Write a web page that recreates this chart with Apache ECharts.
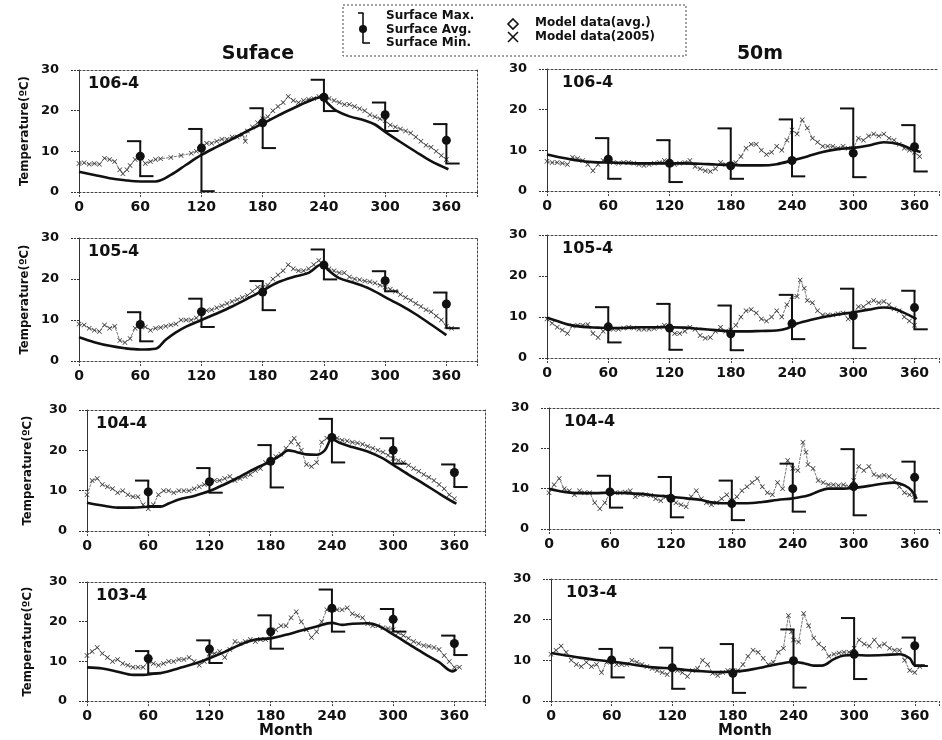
<!DOCTYPE html>
<html>
<head>
<meta charset="utf-8">
<script src="https://cdn.jsdelivr.net/npm/echarts@6/dist/echarts.min.js"></script>
<style>
html,body{margin:0;padding:0;background:#fff;}
#chart{width:942px;height:740px;}
</style>
</head>
<body>
<div id="chart"></div>
<script>
// ---------------- DATA ----------------
const stations = ['106-4', '105-4', '104-4', '103-4'];
const columnTitles = ['Suface', '50m'];
const xTicks = [0, 60, 120, 180, 240, 300, 360];
const yTicks = [0, 10, 20, 30];
const obsDays = [60, 120, 180, 240, 300, 360];

// Observations (error bars) : surface
const surfMax106 = [12.5, 15.5, 20.6, 27.6, 22.0, 16.7];
const surfAvg106 = [8.8, 10.8, 17.0, 23.3, 19.0, 12.7];
const surfMin106 = [3.9, 0.2, 10.8, 19.9, 15.0, 7.0];
const surfMax105 = [11.9, 15.2, 19.5, 27.2, 21.9, 16.7];
const surfAvg105 = [8.9, 12.0, 16.8, 23.4, 19.6, 13.9];
const surfMin105 = [4.8, 8.3, 12.4, 19.9, 17.0, 8.0];
const surfMax104 = [12.5, 15.6, 21.3, 27.8, 23.0, 16.5];
const surfAvg104 = [9.7, 12.2, 17.3, 23.2, 20.0, 14.5];
const surfMin104 = [6.2, 9.5, 10.8, 17.0, 16.7, 10.9];
const surfMax103 = [12.6, 15.3, 21.6, 28.1, 23.2, 16.5];
const surfAvg103 = [10.7, 13.1, 17.5, 23.4, 20.6, 14.5];
const surfMin103 = [7.0, 9.6, 13.2, 17.5, 17.5, 11.6];
// Observations (error bars) : 50 m
const deepMax106 = [13.0, 12.5, 15.4, 17.6, 20.3, 16.2];
const deepAvg106 = [7.8, 6.8, 6.2, 7.5, 9.3, 10.9];
const deepMin106 = [3.0, 2.2, 3.0, 3.6, 3.4, 4.8];
const deepMax105 = [12.4, 13.2, 12.8, 15.4, 16.9, 16.4];
const deepAvg105 = [7.6, 7.3, 5.9, 8.4, 10.3, 12.3];
const deepMin105 = [3.8, 2.0, 1.9, 4.6, 2.4, 7.0];
const deepMax104 = [13.2, 12.9, 12.0, 16.2, 19.8, 16.7];
const deepAvg104 = [9.2, 7.6, 6.3, 10.0, 10.5, 12.8];
const deepMin104 = [5.3, 2.9, 2.2, 4.3, 3.4, 6.8];
const deepMax103 = [12.8, 13.1, 14.0, 17.6, 20.4, 15.6];
const deepAvg103 = [10.1, 8.2, 6.8, 9.9, 11.5, 13.6];
const deepMin103 = [5.8, 3.0, 2.0, 3.3, 5.4, 8.6];

// Model data (avg.) [day, temp]
const model106S = [[0,5],[15,4.2],[30,3.4],[45,2.9],[60,2.6],[75,2.6],[90,4.2],[105,6.7],[120,9.1],[135,11.1],[150,13],[165,15],[180,16.8],[195,18.8],[210,20.6],[225,22.3],[237,23.3],[245,21.5],[252,20],[265,18.6],[280,17.6],[290,16.6],[300,14.8],[315,12.3],[330,9.9],[345,7.6],[362,5.6]];
const model106D = [[0,9],[15,8.2],[30,7.5],[45,7.1],[60,7],[75,6.9],[90,6.8],[105,6.8],[120,6.8],[135,6.8],[150,6.7],[165,6.5],[180,6.4],[195,6.3],[210,6.3],[225,6.6],[240,7.5],[255,8.5],[270,9.6],[285,10.3],[300,10.6],[315,11.2],[330,12],[345,11.5],[360,10],[366,9.6]];
const model105S = [[0,5.8],[15,4.6],[30,3.7],[45,3.1],[60,2.8],[75,3],[85,5.2],[95,7],[105,8.4],[120,10],[135,11.6],[150,13.3],[165,15.2],[180,17.2],[195,19.2],[210,20.5],[225,21.5],[238,23.6],[245,22],[255,20.2],[270,19],[285,17.6],[300,15.6],[315,13.6],[330,11.4],[345,8.9],[360,6.3]];
const model105D = [[0,9.8],[10,9],[20,8.2],[35,7.6],[50,7.4],[60,7.3],[75,7.3],[90,7.5],[105,7.5],[120,7.5],[135,7.4],[150,7.1],[165,6.8],[180,6.5],[195,6.5],[210,6.6],[225,6.7],[235,7.2],[245,8.4],[260,9.4],[275,10.2],[290,10.8],[300,11.1],[315,11.8],[330,12.3],[340,12],[350,11],[362,9.5]];
const model104S = [[0,7],[15,6.3],[30,5.8],[45,5.8],[60,6],[72,6],[80,6.8],[90,7.8],[105,8.7],[120,9.9],[135,11.6],[150,13.5],[165,15.5],[180,17.3],[190,18.8],[197,20],[205,19.6],[215,19],[225,18.9],[233,20],[240,22.8],[248,21.8],[260,20.8],[275,19.7],[290,18],[300,16.4],[315,14],[330,11.7],[345,9.3],[358,7.3],[362,6.8]];
const model104D = [[0,10],[15,9.2],[30,8.9],[45,8.9],[60,9],[75,8.9],[90,8.7],[105,8.3],[120,8],[135,7.6],[150,7.2],[160,6.6],[170,6.4],[180,6.4],[195,6.4],[210,6.7],[225,7.2],[240,7.6],[255,8.3],[265,9.3],[275,10],[290,10],[300,10.2],[315,10.7],[330,11.3],[340,11.5],[350,10.8],[357,9.5],[362,7.5]];
const model103S = [[0,8.5],[15,8.2],[30,7.4],[45,6.6],[55,6.6],[65,6.9],[75,7.2],[90,8.3],[105,9.4],[120,10.8],[135,12.4],[150,14.2],[165,15.5],[180,15.8],[195,16.7],[210,17.8],[225,18.8],[240,19.7],[250,19.2],[260,19.5],[275,19.6],[285,19],[300,16.8],[315,14.4],[330,12],[345,9.8],[358,7.5],[362,8]];
const model103D = [[0,11.8],[15,11.2],[30,10.6],[45,10.1],[60,9.7],[75,9.2],[90,8.6],[105,8.2],[120,8],[135,7.6],[150,7.3],[165,7.1],[180,7.2],[195,7.6],[210,8.3],[225,9.1],[240,9.6],[250,9.3],[260,8.7],[268,8.7],[280,10.3],[290,11.2],[300,11.3],[315,11.2],[330,11.3],[345,11.5],[355,10.5],[360,8.8],[370,8.7]];

// Model data (2005) [day, temp]
const y2005_106S = [[0,7],[5,7.2],[10,6.8],[15,7],[20,6.8],[25,8.3],[30,8],[35,7.5],[40,5.5],[43,4.5],[47,5.5],[50,6.5],[55,8],[60,8.5],[65,7],[70,7.5],[75,8],[80,8.2],[90,8.5],[100,9],[110,9.5],[115,10],[120,11],[125,12],[130,12],[135,12.5],[140,13],[145,13],[150,13.5],[155,13.5],[160,14],[163,12.5],[165,15],[170,16],[175,17],[180,18],[185,18.5],[190,20],[195,21],[200,22],[205,23.5],[210,22.5],[215,22],[220,22.5],[225,22.8],[230,23],[235,23.5],[240,23.5],[245,23],[250,22.5],[255,22],[260,21.5],[265,21.5],[270,21],[275,20.5],[280,20],[285,19],[290,18.5],[295,18],[300,17.5],[305,16.5],[310,16],[315,15.5],[320,15],[325,14.5],[330,13.5],[335,12.5],[340,11.5],[345,11],[350,10],[355,9],[360,8]];
const y2005_106D = [[0,7.3],[5,7],[10,7],[15,6.8],[20,6.5],[25,8.3],[30,8],[35,7.5],[40,6.5],[45,5],[50,6.5],[55,7.5],[60,8],[65,7],[70,6.8],[75,7],[80,7],[85,6.8],[90,6.5],[95,6.3],[100,6.5],[105,6.8],[110,7],[115,7.5],[120,6.5],[125,6.5],[130,6.8],[135,7],[140,7.5],[145,6],[150,5.5],[155,5],[160,4.8],[165,5.5],[170,7],[175,6.5],[180,6.5],[185,7],[190,8.5],[195,10.5],[200,11.5],[205,11.5],[210,10],[215,9],[220,9.5],[225,11],[230,10],[235,12.5],[240,15],[245,14],[250,17.5],[255,15.5],[260,13],[265,12],[270,11],[275,11],[280,11],[285,10.5],[290,11],[295,10.5],[300,10.5],[305,13],[310,12.5],[315,13.5],[320,14],[325,13.5],[330,14],[335,13],[340,12.5],[345,11.5],[350,10.5],[355,10],[360,9.5],[365,8.5]];
const y2005_105S = [[0,9],[5,8.8],[10,8],[15,7.5],[20,7.2],[25,8.8],[30,8],[35,8.5],[40,5],[45,4.5],[50,5.5],[55,8],[60,8.5],[65,8.3],[70,7.5],[75,8],[80,8.2],[85,8.5],[90,8.8],[95,9],[100,10],[105,10],[110,10],[115,10.5],[120,12],[125,12.3],[130,12.5],[135,13],[140,13.5],[145,14],[150,14.5],[155,15],[160,15.5],[165,16],[170,17],[175,18],[180,18],[185,18.5],[190,20],[195,21],[200,22],[205,23.5],[210,22.5],[215,22],[220,22],[225,22.5],[230,23.5],[235,24.5],[240,23.5],[245,22.5],[250,22],[255,21.5],[260,21.5],[265,20.5],[270,20],[275,19.8],[280,19.5],[285,19.3],[290,19],[295,18.5],[300,18],[305,17.5],[310,17],[315,16.2],[320,15.5],[325,14.8],[330,14],[335,13.3],[340,12.5],[345,12],[350,11],[355,10],[360,8.5],[365,8]];
const y2005_105D = [[0,9.5],[5,8.5],[10,7.5],[15,6.8],[20,6],[25,7.8],[30,8],[35,8],[40,8.2],[45,6],[50,5],[55,6.5],[60,7.5],[65,7],[70,7],[75,7.3],[80,7.5],[85,7.3],[90,7],[95,7],[100,7],[105,7.2],[110,7.5],[115,8],[120,7],[125,6],[130,6],[135,6.5],[140,7.5],[145,7],[150,5.5],[155,4.8],[160,5],[165,6.5],[170,7.5],[175,6.5],[180,6.8],[185,8],[190,10],[195,11.5],[200,11.8],[205,11],[210,9.5],[215,9],[220,10],[225,11.5],[230,10],[235,13],[240,15],[245,15],[248,19],[252,17],[255,14],[260,13.5],[265,11.5],[270,10.5],[275,10.5],[280,10.5],[285,10.8],[290,11],[295,9.5],[300,11],[305,12.5],[310,12.5],[315,13.5],[320,14],[325,13.5],[330,13.8],[335,13],[340,12],[345,11.5],[350,10],[355,9],[360,8]];
const y2005_104S = [[0,9],[5,12.5],[10,13],[15,11.5],[20,11],[25,10.5],[30,9.5],[35,10],[40,9],[45,8.5],[50,8.5],[55,6.5],[60,5.5],[65,6.5],[70,9],[75,10],[80,10],[85,9.5],[90,10],[95,10],[100,10],[105,10.5],[110,11],[115,11.5],[120,12],[125,12.5],[130,12.5],[135,13],[140,13.5],[145,12.5],[150,13],[155,13.5],[160,14],[165,15],[170,15.5],[175,17],[180,17.5],[185,18.5],[190,19],[195,20.5],[200,22],[203,23],[207,21.5],[210,20],[215,16.5],[220,16],[225,17],[230,22],[235,23],[240,23.5],[245,23],[250,22.5],[255,22.3],[260,22],[265,21.8],[270,21.5],[275,21],[280,20.5],[285,20],[290,19.5],[295,18.8],[300,18],[305,17.5],[310,17],[315,16.3],[320,15.5],[325,14.8],[330,14],[335,13.3],[340,12.5],[345,11.5],[350,10.5],[355,9],[360,8]];
const y2005_104D = [[0,9],[5,11],[10,12.5],[15,10],[20,9.5],[25,8.5],[30,9.5],[35,9],[40,9],[45,6.5],[50,5],[55,6.5],[60,9],[65,9],[70,9],[75,9.2],[80,9.5],[85,8],[90,8.5],[95,8.5],[100,8.3],[105,7.5],[110,7],[115,8],[120,7.5],[125,6.5],[130,6],[135,5.5],[140,8],[145,9.5],[150,7.5],[155,6.5],[160,6],[165,6.5],[170,7.5],[175,8.5],[180,7],[185,8],[190,9.5],[195,10.5],[200,11.5],[205,12.5],[210,10.5],[215,9],[220,8.5],[225,11.5],[230,10],[235,17],[240,15],[245,14.5],[250,21.5],[253,19],[255,16],[260,15],[265,12],[270,11.5],[275,11],[280,11],[285,10.8],[290,11],[295,10.5],[300,12],[305,15.5],[310,14.5],[315,15.5],[320,13.5],[325,13],[330,13.3],[335,13],[340,12],[345,10.5],[350,9],[355,8.5],[360,8]];
const y2005_103S = [[0,11.5],[5,12.5],[10,13.5],[15,12],[20,11],[25,10],[30,10.5],[35,9.5],[40,9],[45,8.5],[50,8.5],[55,8.5],[60,10],[65,9.5],[70,9],[75,9.5],[80,10],[85,10],[90,10.5],[95,10.5],[100,11],[105,10],[110,9],[115,10],[120,12],[125,12],[130,12.5],[135,11],[140,13],[145,15],[150,14.5],[155,15],[160,15.5],[165,15],[170,15.5],[175,15.5],[180,17],[185,18],[190,19],[195,19],[200,21],[205,22.5],[210,20],[215,18],[220,16],[225,17.5],[230,20],[235,23],[240,23.5],[245,23],[250,23],[255,23.5],[260,22],[265,21.5],[270,21],[275,19.5],[280,19],[285,19],[290,18.5],[295,18.3],[300,18],[305,17.2],[310,16.5],[315,15.8],[320,15],[325,14.5],[330,14],[335,13.8],[340,13.5],[345,13],[350,11.5],[355,10],[360,8.5],[365,8.5]];
const y2005_103D = [[0,11.5],[5,12.5],[10,13.5],[15,12],[20,10],[25,9],[30,8.5],[35,9.5],[40,8.5],[45,9],[50,7],[55,9.5],[60,10],[65,9],[70,9],[75,9],[80,10],[85,9.5],[90,9],[95,8.5],[100,8],[105,7.5],[110,7],[115,6.5],[120,8],[125,7.5],[130,7],[135,6],[140,7.5],[145,8],[150,10],[155,9],[160,6.8],[165,6.3],[170,7],[175,7.5],[180,7.5],[185,7.5],[190,9],[195,11],[200,12.5],[205,12],[210,10.5],[215,9],[220,9.5],[225,12],[230,13],[235,21],[238,17],[240,15],[245,14.5],[250,21.5],[255,18.5],[260,15.5],[265,14],[270,13],[275,11],[280,11.5],[285,11.8],[290,12],[295,12],[300,13],[305,15],[310,14],[315,13.5],[320,15],[325,13.5],[330,14],[335,13],[340,12.5],[345,12.5],[350,10],[355,7.5],[360,7],[365,8.5]];

// ---------------- BUILD ----------------
const obsTable = [
  [surfMin106, surfAvg106, surfMax106], [deepMin106, deepAvg106, deepMax106],
  [surfMin105, surfAvg105, surfMax105], [deepMin105, deepAvg105, deepMax105],
  [surfMin104, surfAvg104, surfMax104], [deepMin104, deepAvg104, deepMax104],
  [surfMin103, surfAvg103, surfMax103], [deepMin103, deepAvg103, deepMax103]
];
const modelTable = [model106S, model106D, model105S, model105D, model104S, model104D, model103S, model103D];
const y2005Table = [y2005_106S, y2005_106D, y2005_105S, y2005_105D, y2005_104S, y2005_104D, y2005_103S, y2005_103D];

// layout (pixels)
const layout = [
  {left: 79, top: 70, height: 122},
  {left: 547, top: 69, height: 122},
  {left: 79, top: 238, height: 123},
  {left: 547, top: 235, height: 123},
  {left: 87, top: 410, height: 121},
  {left: 549, top: 408, height: 121},
  {left: 87, top: 582, height: 122},
  {left: 551, top: 579, height: 122}
];
const LEFT_MAX = 390, RIGHT_MAX = 384;
const LEFT_W = 398, RIGHT_W = 394;

const FONT = 'DejaVu Sans';
const INK = '#111';
const X_PATH = 'path://M0,1L1,0L5,4L9,0L10,1L6,5L10,9L9,10L5,6L1,10L0,9L4,5Z';

const grids = [], xAxes = [], yAxes = [], series = [], graphics = [];

function renderObs(params, api) {
  const x = api.value(0), mn = api.value(1), av = api.value(2), mx = api.value(3);
  const pTop = api.coord([x, mx]);
  const pBot = api.coord([x, mn]);
  const pAvg = api.coord([x, av]);
  const pL = api.coord([x - 13, mx]);
  const pR = api.coord([x + 13, mn]);
  const st = {stroke: INK, lineWidth: 2, fill: null};
  return {
    type: 'group',
    children: [
      {type: 'line', shape: {x1: pTop[0], y1: pTop[1], x2: pBot[0], y2: pBot[1]}, style: st},
      {type: 'line', shape: {x1: pL[0], y1: pTop[1], x2: pTop[0] + 1, y2: pTop[1]}, style: st},
      {type: 'line', shape: {x1: pBot[0] - 1, y1: pBot[1], x2: pR[0], y2: pBot[1]}, style: st},
      {type: 'circle', shape: {cx: pAvg[0], cy: pAvg[1], r: 4.5}, style: {fill: INK, stroke: null}}
    ]
  };
}

for (let i = 0; i < 8; i++) {
  const L = layout[i];
  const isLeft = i % 2 === 0;
  const isBottom = i >= 6;
  const xmax = isLeft ? LEFT_MAX : RIGHT_MAX;
  grids.push({left: L.left, top: L.top, width: isLeft ? LEFT_W : RIGHT_W, height: L.height, containLabel: false});

  xAxes.push({
    type: 'value', gridIndex: i, position: 'bottom', min: 0, max: xmax, interval: 60,
    axisLine: {onZero: false, lineStyle: {color: '#444', width: 1, type: [2, 2]}},
    axisTick: {show: true, length: 5, lineStyle: {color: '#444', type: [2, 1]}},
    axisLabel: {
      margin: 8, color: INK, fontFamily: FONT, fontWeight: 'bold', fontSize: 14,
      formatter: v => (xTicks.indexOf(v) >= 0 ? String(v) : '')
    },
    splitLine: {show: false},
    name: isBottom ? 'Month' : '',
    nameLocation: 'middle', nameGap: 20,
    nameTextStyle: {color: INK, fontFamily: FONT, fontWeight: 'bold', fontSize: 15}
  });
  xAxes.push({
    type: 'value', gridIndex: i, position: 'top', min: 0, max: xmax,
    axisLine: {onZero: false, lineStyle: {color: '#444', width: 1, type: [2, 2]}},
    axisTick: {show: false}, axisLabel: {show: false}, splitLine: {show: false}
  });
  yAxes.push({
    type: 'value', gridIndex: i, position: 'left', min: 0, max: 30, interval: 10,
    axisLine: {show: true, onZero: false, lineStyle: {color: '#333', width: 1}},
    axisTick: {show: true, length: 8, lineStyle: {color: '#333', type: [2, 1]}},
    axisLabel: {
      margin: 20, color: INK, fontFamily: FONT, fontWeight: 'bold', fontSize: 13,
      formatter: v => (yTicks.indexOf(v) >= 0 ? String(v) : '')
    },
    splitLine: {show: false},
    name: isLeft ? 'Temperature(ºC)' : '',
    nameLocation: 'middle', nameGap: isLeft ? (L.left === 79 ? 48 : 53) : 0,
    nameTextStyle: {color: INK, fontFamily: '"DejaVu Sans Condensed", "Liberation Sans", sans-serif', fontWeight: 'bold', fontSize: 13}
  });
  yAxes.push({
    type: 'value', gridIndex: i, position: 'right', min: 0, max: 30,
    show: isLeft,
    axisLine: {show: true, onZero: false, lineStyle: {color: '#444', width: 1, type: [2, 2]}},
    axisTick: {show: false}, axisLabel: {show: false}, splitLine: {show: false}
  });

  // Model data (2005)
  series.push({
    name: 'Model data(2005)', type: 'line', xAxisIndex: 2 * i, yAxisIndex: 2 * i,
    data: y2005Table[i], symbol: X_PATH, symbolSize: 5, showSymbol: true,
    lineStyle: {color: '#777', width: 1, type: [3, 1]}, itemStyle: {color: '#333'},
    animation: false, z: 2
  });
  // Model data (avg.)
  series.push({
    name: 'Model data(avg.)', type: 'line', xAxisIndex: 2 * i, yAxisIndex: 2 * i,
    data: modelTable[i], smooth: 0.35, showSymbol: false,
    lineStyle: {color: INK, width: 2.6}, animation: false, z: 3
  });
  // Observations
  const o = obsTable[i];
  series.push({
    name: 'Surface', type: 'custom', xAxisIndex: 2 * i, yAxisIndex: 2 * i,
    renderItem: renderObs,
    encode: {x: 0, y: [1, 2, 3]},
    data: obsDays.map((d, k) => [d, o[0][k], o[1][k], o[2][k]]),
    clip: false, animation: false, z: 4
  });

  // station label
  graphics.push({
    type: 'text', left: L.left + (isLeft ? 9 : 15), top: L.top + 6,
    style: {text: stations[Math.floor(i / 2)], fill: INK, font: 'bold 16px "DejaVu Sans"'}
  });
}

// column titles
graphics.push({type: 'text', x: 258, y: 54, style: {text: columnTitles[0], fill: INK, font: 'bold 19px "DejaVu Sans"', align: 'center', verticalAlign: 'middle'}});
graphics.push({type: 'text', x: 760, y: 54, style: {text: columnTitles[1], fill: INK, font: 'bold 19px "DejaVu Sans"', align: 'center', verticalAlign: 'middle'}});

// legend box
const legStroke = {stroke: INK, lineWidth: 1.6, fill: null};
graphics.push(
  {type: 'rect', shape: {x: 343, y: 5, width: 343, height: 51}, style: {fill: 'none', stroke: '#444', lineWidth: 1, lineDash: [2, 2]}},
  {type: 'line', shape: {x1: 363, y1: 13, x2: 363, y2: 43}, style: legStroke},
  {type: 'line', shape: {x1: 358, y1: 13, x2: 363.5, y2: 13}, style: legStroke},
  {type: 'line', shape: {x1: 362.5, y1: 43, x2: 370, y2: 43}, style: legStroke},
  {type: 'circle', shape: {cx: 363, cy: 29, r: 4}, style: {fill: INK}},
  {type: 'text', x: 386, y: 16, style: {text: 'Surface Max.', fill: INK, font: 'bold 12px "DejaVu Sans"', verticalAlign: 'middle'}},
  {type: 'text', x: 386, y: 30, style: {text: 'Surface Avg.', fill: INK, font: 'bold 12px "DejaVu Sans"', verticalAlign: 'middle'}},
  {type: 'text', x: 386, y: 43, style: {text: 'Surface Min.', fill: INK, font: 'bold 12px "DejaVu Sans"', verticalAlign: 'middle'}},
  {type: 'polygon', shape: {points: [[513, 19], [518, 24], [513, 29], [508, 24]]}, style: legStroke},
  {type: 'line', shape: {x1: 508, y1: 32, x2: 518, y2: 42}, style: legStroke},
  {type: 'line', shape: {x1: 518, y1: 32, x2: 508, y2: 42}, style: legStroke},
  {type: 'text', x: 535, y: 23, style: {text: 'Model data(avg.)', fill: INK, font: 'bold 12px "DejaVu Sans"', verticalAlign: 'middle'}},
  {type: 'text', x: 535, y: 37, style: {text: 'Model data(2005)', fill: INK, font: 'bold 12px "DejaVu Sans"', verticalAlign: 'middle'}}
);

const chart = echarts.init(document.getElementById('chart'), null, {renderer: 'canvas'});
chart.setOption({
  backgroundColor: '#fff',
  animation: false,
  grid: grids,
  xAxis: xAxes,
  yAxis: yAxes,
  series: series,
  graphic: graphics
});
</script>
</body>
</html>
